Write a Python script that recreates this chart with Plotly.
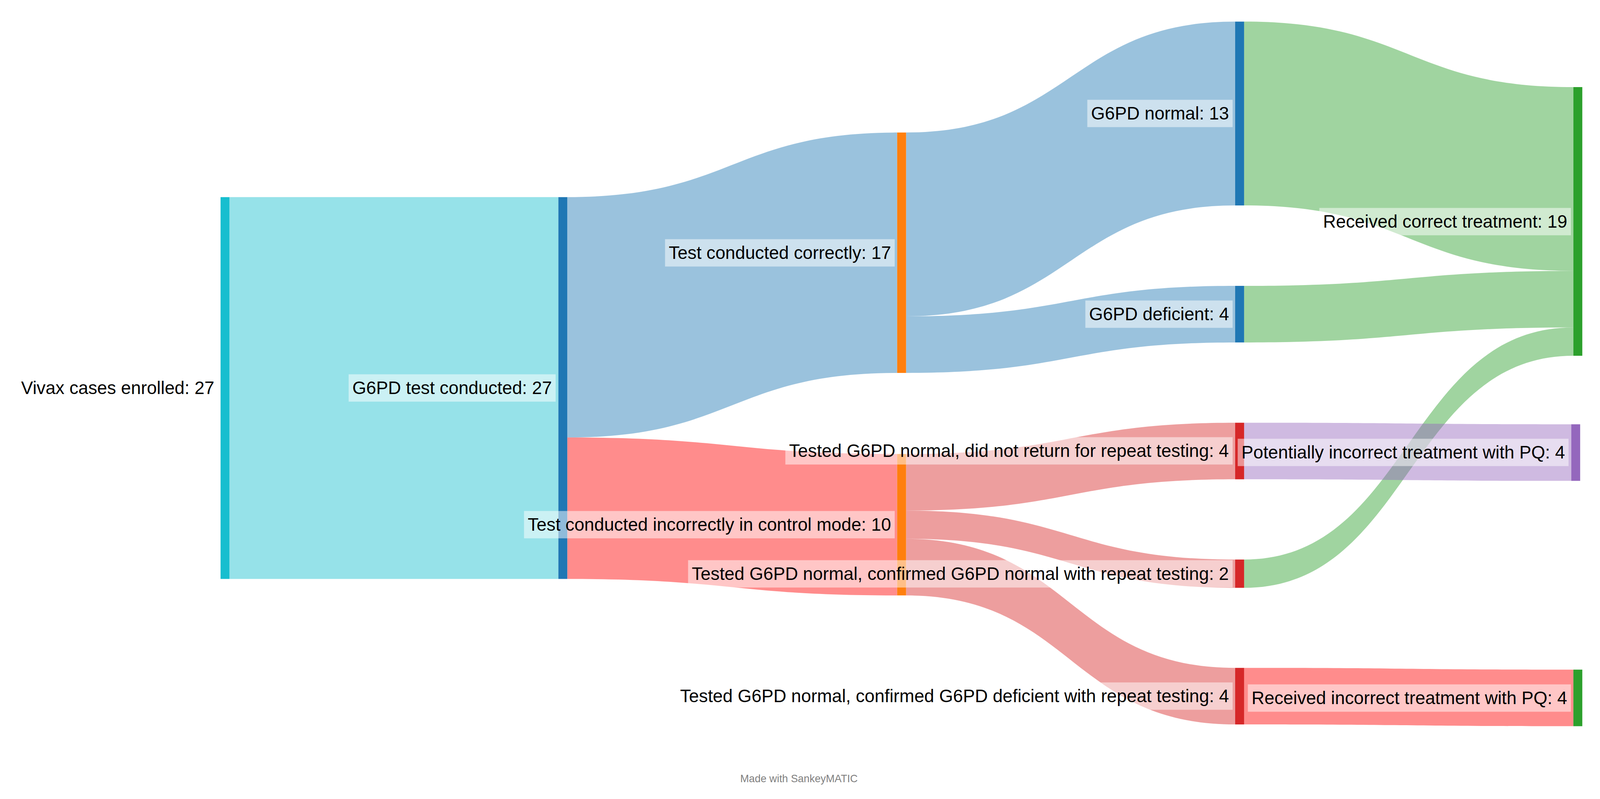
import plotly.graph_objects as go

# ---------------- data ----------------
node_names = [
    "Vivax cases enrolled",
    "G6PD test conducted",
    "Test conducted correctly",
    "Test conducted incorrectly in control mode",
    "G6PD normal",
    "G6PD deficient",
    "Tested G6PD normal, did not return for repeat testing",
    "Tested G6PD normal, confirmed G6PD normal with repeat testing",
    "Tested G6PD normal, confirmed G6PD deficient with repeat testing",
    "Received correct treatment",
    "Potentially incorrect treatment with PQ",
    "Received incorrect treatment with PQ",
]
link_source = [0, 1, 1, 2, 2, 3, 3, 3, 4, 5, 7, 6, 8]
link_target = [1, 2, 3, 4, 5, 6, 7, 8, 9, 9, 9, 10, 11]
link_value = [27, 17, 10, 13, 4, 4, 2, 4, 13, 4, 2, 4, 4]

# ---------------- styles / layout ----------------
node_colors = ["#17becf", "#1f77b4", "#ff7f0e", "#ff7f0e", "#1f77b4", "#1f77b4",
               "#d62728", "#d62728", "#d62728", "#2ca02c", "#9467bd", "#2ca02c"]
link_colors = ["rgba(23,190,207,0.45)", "rgba(31,119,180,0.45)", "rgba(255,0,0,0.45)",
               "rgba(31,119,180,0.45)", "rgba(31,119,180,0.45)",
               "rgba(214,39,40,0.45)", "rgba(214,39,40,0.45)", "rgba(214,39,40,0.45)",
               "rgba(44,160,44,0.45)", "rgba(44,160,44,0.45)", "rgba(44,160,44,0.45)",
               "rgba(148,103,189,0.45)", "rgba(255,0,0,0.45)"]

OFF = 8                      # default page body margin
SX, SY = 1 / 1.006, 1 / 1.0044   # rendering scale compensation
W, HT = 4119 - 2 * OFF, 2046 - 2 * OFF
MT, MB = 32, 140
PH = HT - MT - MB
THICK = 23 * SX
UNIT = 36.37 * SY            # pixels per case
# node centre positions in page pixels (layout)
node_cx = [579.5, 1449.5, 2322, 2322, 3192.5, 3192.5, 3192.5, 3192.5, 3192.5, 4063.5, 4058, 4063.5]
node_cy = [998, 998, 650, 1349.5, 292, 808, 1160, 1475.5, 1790.5, 569.5, 1164, 1795]


def px_x(p):
    return p * SX - OFF


def px_y(p):
    return p * SY - OFF - MT


node_x = [px_x(cx) / W for cx in node_cx]
node_y = [px_y(cy) / PH for cy in node_cy]
PAD = (PH - 27 * UNIT) / 4

# node totals
n = len(node_names)
tot_in = [0] * n
tot_out = [0] * n
for s, t, v in zip(link_source, link_target, link_value):
    tot_out[s] += v
    tot_in[t] += v
node_tot = [max(a, b) for a, b in zip(tot_in, tot_out)]
labels = [f"{name}: {v}" for name, v in zip(node_names, node_tot)]

FONT = "Liberation Sans, Arial, Helvetica, sans-serif"
FS = 46 * SX

fig = go.Figure(go.Sankey(
    arrangement="fixed",
    node=dict(
        label=labels,
        color=node_colors,
        x=node_x,
        y=node_y,
        pad=PAD,
        thickness=THICK,
        line=dict(width=0),
    ),
    link=dict(
        source=link_source,
        target=link_target,
        value=link_value,
        color=link_colors,
    ),
    textfont=dict(size=1, color="rgba(0,0,0,0)", family=FONT),
    hoverinfo="none",
))

annotations = []
for i, lab in enumerate(labels):
    annotations.append(dict(
        x=(px_x(node_cx[i]) - THICK / 2 - 6) / W,
        y=1 - node_y[i],
        xref="paper", yref="paper",
        text=lab,
        showarrow=False,
        xanchor="right", yanchor="middle",
        font=dict(size=FS, color="#000000", family=FONT),
        bgcolor="rgba(255,255,255,0.5)",
        borderpad=9,
    ))
annotations.append(dict(
    x=px_x(2058) / W, y=1 - px_y(2003) / PH,
    xref="paper", yref="paper",
    text="Made with SankeyMATIC",
    showarrow=False,
    xanchor="center", yanchor="middle",
    font=dict(size=27 * SX, color="#808080", family=FONT),
))

fig.update_layout(
    width=W, height=HT,
    margin=dict(l=0, r=0, t=MT, b=MB),
    paper_bgcolor="white",
    plot_bgcolor="white",
    annotations=annotations,
    font=dict(family=FONT),
)

fig.write_html("out.html")
